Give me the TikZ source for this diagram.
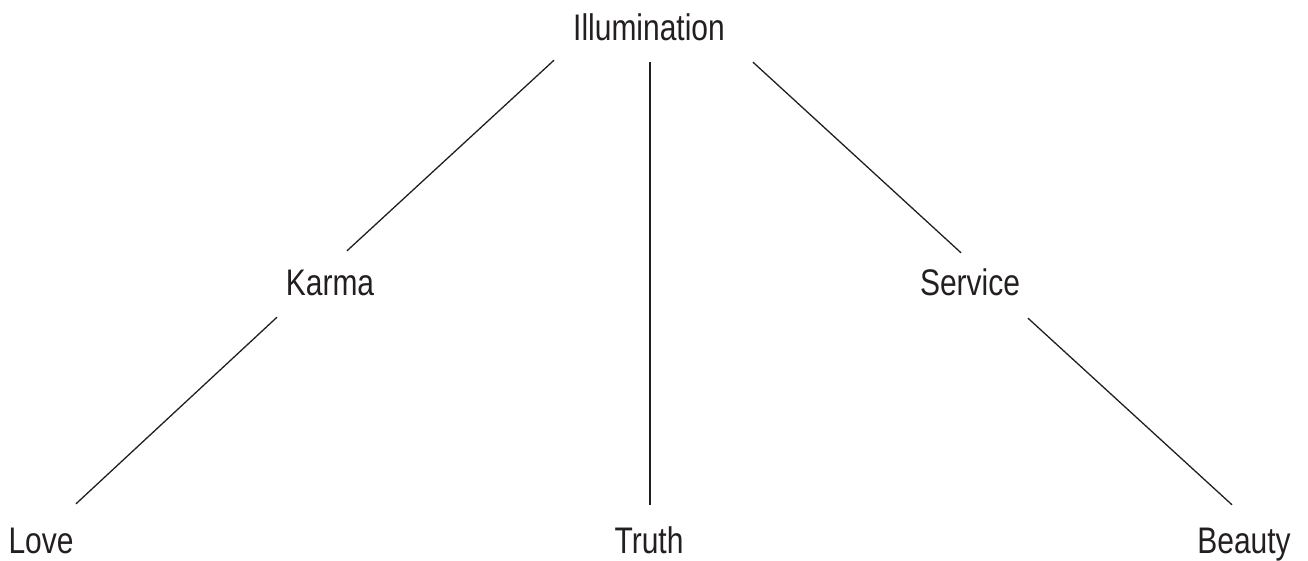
\documentclass[tikz,border=0pt]{standalone}
\usepackage{fontspec}
\setmainfont[FakeStretch=0.81]{Liberation Sans}
\usepackage{xcolor}
\usepackage{tikz}
\usetikzlibrary{calc}
\definecolor{pathink}{HTML}{231F20}

\begin{document}
\begin{tikzpicture}[
  x=1pt,y=-1pt,
  font=\fontsize{37}{44}\selectfont,
  word/.style={anchor=base,inner sep=0pt,text height=27pt,text depth=0pt,text=pathink},
  link/.style={draw=pathink,line width=1.3pt}
]
\useasboundingbox (0,0) rectangle (1308,560);

% top
\node[word] (illum) at (649,40) {Illumination};

% middle row
\node[word] (karma) at (330,295) {Karma};
\node[word] (service) at (970,295) {Service};

% bottom row
\node[word] (love) at (41,553) {Love};
\node[word] (truth) at (649,553) {Truth};
\node[word] (beauty) at (1244,553) {Beauty};

\draw[link] ([shift={(-95,20)}]illum.south) -- ([shift={(17,-17)}]karma.north);
\draw[link] ([shift={(1,22)}]illum.south) -- ([shift={(1,-21)}]truth.north);
\draw[link] ([shift={(104,22)}]illum.south) -- ([shift={(-9,-15)}]service.north);
\draw[link] ([shift={(-53,22)}]karma.south) -- ([shift={(35,-22)}]love.north);
\draw[link] ([shift={(58,23)}]service.south) -- ([shift={(-12,-21)}]beauty.north);
\end{tikzpicture}
\end{document}
